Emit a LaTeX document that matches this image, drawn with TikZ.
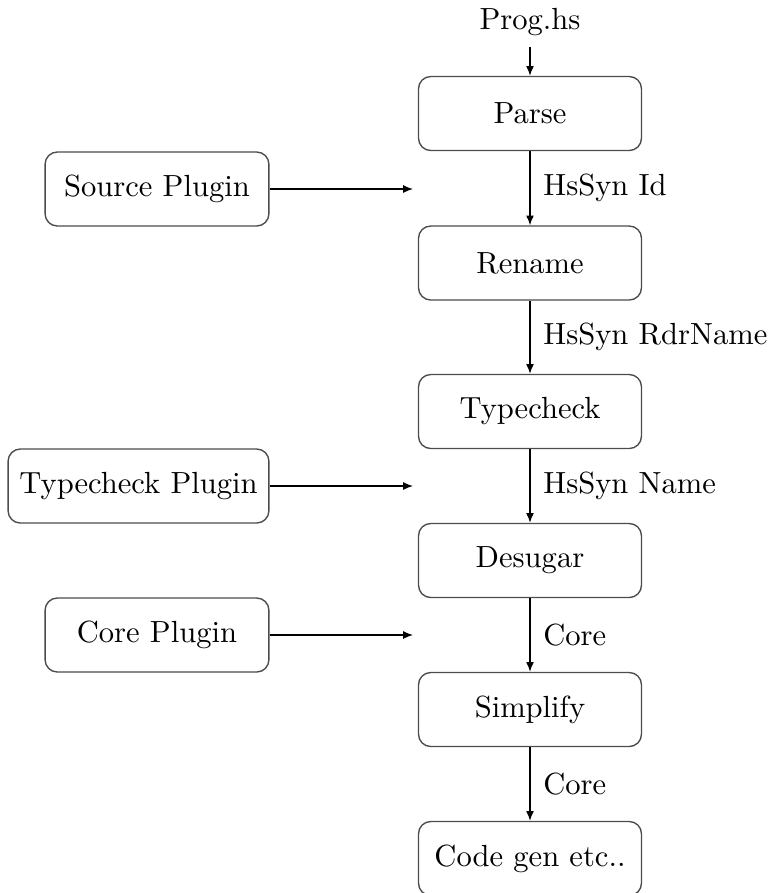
\documentclass[tikz,border=0pt]{standalone}
\usetikzlibrary{arrows.meta}
\begin{document}
\begin{tikzpicture}[x=0.327pt,y=-0.327pt,
  stage/.style={draw=black!70, line width=0.45pt, rounded corners=4pt, minimum width=72.9pt, minimum height=24.2pt, inner sep=0pt, font=\fontsize{10}{12}\selectfont},
  plug/.style={stage, minimum width=73.2pt},
  wideplug/.style={stage, minimum width=85.3pt},
  arr/.style={-{Latex[length=3.2pt,width=2.6pt]}, line width=0.45pt},
  lbl/.style={right, xshift=0.8pt, font=\fontsize{10}{12}\selectfont}]
\useasboundingbox (0,0) rectangle (769,893);
\node[font=\fontsize{10}{12}\selectfont] (prog) at (530,22) {Prog.hs};
\node[stage] (parse) at (530,113.5) {Parse};
\node[stage] (rename) at (530,263) {Rename};
\node[stage] (typecheck) at (530,411.5) {Typecheck};
\node[stage] (desugar) at (530,560.5) {Desugar};
\node[stage] (simplify) at (530,709.5) {Simplify};
\node[stage] (codegen) at (530,858.5) {Code gen etc..};
\node[plug] (srcplug) at (157,189) {Source Plugin};
\node[wideplug] (tcplug) at (138.5,486) {Typecheck Plugin};
\node[plug] (coreplug) at (157,635) {Core Plugin};
\coordinate (srcend) at (413,189);
\coordinate (tcend) at (413,486);
\coordinate (coreend) at (413,635);
\draw[arr] (prog) -- (parse);
\draw[arr] (parse) -- node[lbl]{HsSyn Id} (rename);
\draw[arr] (rename) -- node[lbl]{HsSyn RdrName} (typecheck);
\draw[arr] (typecheck) -- node[lbl]{HsSyn Name} (desugar);
\draw[arr] (desugar) -- node[lbl]{Core} (simplify);
\draw[arr] (simplify) -- node[lbl]{Core} (codegen);
\draw[arr] (srcplug) -- (srcend);
\draw[arr] (tcplug) -- (tcend);
\draw[arr] (coreplug) -- (coreend);
\end{tikzpicture}
\end{document}
